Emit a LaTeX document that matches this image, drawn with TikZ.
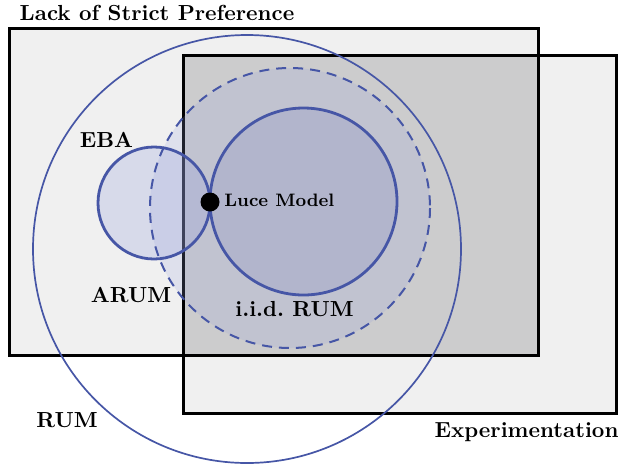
\documentclass[tikz,border=0pt]{standalone}
\begin{document}
\begin{tikzpicture}[x=0.5pt,y=-0.5pt,
  setline/.style={draw=setblue},
  lbl/.style={font=\fontsize{10.9}{13}\selectfont\bfseries, inner sep=0pt},
  boxline/.style={draw=black, line width=1.5pt}]
\definecolor{setblue}{RGB}{70,86,166}
\definecolor{lightbg}{RGB}{240,240,240}
\definecolor{overlapbg}{RGB}{204,204,205}
\definecolor{fillblue}{RGB}{150,160,220}
\definecolor{fillblueB}{RGB}{120,125,190}
\useasboundingbox (0,0) rectangle (619,467);
% rectangles
\fill[lightbg] (9,28) rectangle (538,355);
\fill[lightbg] (183,55) rectangle (616,413);
\fill[overlapbg] (183,55) rectangle (538,355);
\draw[boxline] (9,28) rectangle (538,355);
\draw[boxline] (183,55) rectangle (616,413);
% circle fills
\fill[fillblue, opacity=0.2] (290,208) circle[radius=140];
\fill[fillblue, opacity=0.27] (154,203) circle[radius=56];
\fill[fillblueB, opacity=0.2] (303.5,201.5) circle[radius=93.5];
% circle outlines
\draw[setline, line width=0.85pt] (247,249) circle[radius=214];
\draw[setline, line width=1pt, dash pattern=on 5pt off 3.5pt] (290,208) circle[radius=140];
\draw[setline, line width=1.4pt] (154,203) circle[radius=56];
\draw[setline, line width=1.4pt] (303.5,201.5) circle[radius=93.5];
% Luce point
\fill[black] (210,202) circle[radius=9.5];
% labels
\node[lbl] (lsp) at (157,13) {Lack of Strict Preference};
\node[lbl] (eba) at (106.5,140) {EBA};
\node[lbl] (arum) at (131,295) {ARUM};
\node[lbl] (iid) at (294.5,309) {i.i.d.\ RUM};
\node[lbl] (rum) at (67,420) {RUM};
\node[lbl] (exp) at (526.5,432) {Experimentation};
\node[font=\fontsize{9.0}{11}\selectfont\bfseries, inner sep=0pt, anchor=west] (luce) at (224,200) {Luce Model};
\end{tikzpicture}
\end{document}
